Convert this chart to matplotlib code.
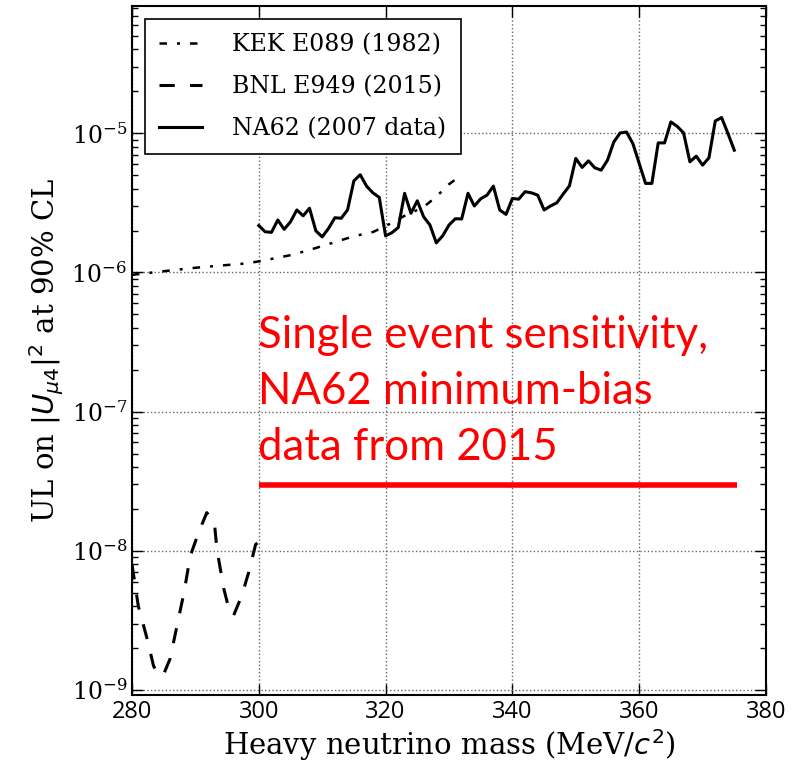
import matplotlib
matplotlib.use('agg')
import matplotlib.pyplot as plt
from matplotlib.ticker import NullFormatter
import numpy as np

# NA62 (2007 data), 1 MeV steps from 300 to 375
na62_mass = np.arange(300, 376)
na62_ul = [2.17e-6, 1.96e-6, 1.94e-6, 2.38e-6, 2.04e-6, 2.31e-6, 2.81e-6, 2.55e-6, 2.89e-6, 1.99e-6,
           1.80e-6, 2.07e-6, 2.47e-6, 2.45e-6, 2.81e-6, 4.55e-6, 5.03e-6, 4.17e-6, 3.73e-6, 3.46e-6,
           1.83e-6, 1.93e-6, 2.10e-6, 3.70e-6, 2.66e-6, 3.27e-6, 2.51e-6, 2.19e-6, 1.63e-6, 1.83e-6,
           2.19e-6, 2.43e-6, 2.42e-6, 3.70e-6, 3.00e-6, 3.38e-6, 3.59e-6, 4.17e-6, 2.81e-6, 2.61e-6,
           3.40e-6, 3.36e-6, 3.80e-6, 3.73e-6, 3.59e-6, 2.81e-6, 3.00e-6, 3.16e-6, 3.65e-6, 4.19e-6,
           6.59e-6, 5.68e-6, 6.33e-6, 5.64e-6, 5.43e-6, 6.40e-6, 8.66e-6, 1.005e-5, 1.02e-5, 8.44e-6,
           6.07e-6, 4.36e-6, 4.36e-6, 8.52e-6, 8.52e-6, 1.205e-5, 1.12e-5, 1.005e-5, 6.23e-6, 6.84e-6,
           5.90e-6, 6.65e-6, 1.225e-5, 1.296e-5, 9.95e-6, 7.55e-6]

# KEK E089 (1982)
kek_mass = [280, 285, 290, 295, 298, 300, 305, 308, 312, 315, 318, 320, 323, 326, 328, 330, 331.7]
kek_ul = [9.6e-7, 1.02e-6, 1.08e-6, 1.13e-6, 1.16e-6, 1.2e-6, 1.33e-6, 1.45e-6, 1.65e-6, 1.82e-6,
          1.95e-6, 2.15e-6, 2.55e-6, 2.95e-6, 3.5e-6, 4.3e-6, 4.9e-6]

# BNL E949 (2015)
bnl_mass = [280, 281, 282.4, 283.4, 284.2, 285, 286, 287.1, 288.2, 289.2, 290.5, 291.8, 293, 293.4,
            294.5, 295.3, 296, 297.3, 298.4, 299.5, 299.9]
bnl_ul = [8.0e-9, 4.0e-9, 2.32e-9, 1.49e-9, 1.27e-9, 1.3e-9, 1.67e-9, 2.89e-9, 5.0e-9, 9.2e-9,
          1.35e-8, 1.88e-8, 1.59e-8, 1.02e-8, 5.3e-9, 3.81e-9, 3.41e-9, 4.74e-9, 6.98e-9, 1.11e-8, 1.15e-8]

# single event sensitivity, NA62 minimum-bias 2015
ses_mass = [300, 375.5]
ses_value = [2.95e-8, 2.95e-8]

plt.rcParams['font.family'] = 'DejaVu Serif'
plt.rcParams['xtick.direction'] = 'in'
plt.rcParams['ytick.direction'] = 'in'

fig = plt.figure(figsize=(7.96, 7.72), dpi=100)
ax = fig.add_axes([0.1658, 0.0997, 0.7965, 0.8925])

ax.plot(kek_mass, kek_ul, color='black', lw=1.8, dashes=[3, 4, 1.2, 4], label='KEK E089 (1982)')
ax.plot(bnl_mass, bnl_ul, color='black', lw=2.2, dashes=[5, 5], label='BNL E949 (2015)')
ax.plot(na62_mass, na62_ul, color='black', lw=2.2, label='NA62 (2007 data)')
ax.plot(ses_mass, ses_value, color='#ff0000', lw=4, solid_capstyle='butt')

ax.set_yscale('log')
ax.set_xlim(280, 380)
ax.set_ylim(9.2e-10, 8.2e-5)
ax.set_xticks([280, 300, 320, 340, 360, 380])
ax.yaxis.set_minor_formatter(NullFormatter())
ax.grid(True, which='major', color='#666666', linestyle=':', lw=1)

ax.tick_params(which='both', top=True, right=True, labelsize=17)
ax.tick_params(which='major', length=8, width=1)
ax.tick_params(which='minor', length=4, width=1)
for lab in ax.get_xticklabels():
    lab.set_fontfamily('Open Sans')
for sp in ax.spines.values():
    sp.set_linewidth(1.5)

ax.set_xlabel('Heavy neutrino mass (MeV/$c^2$)', fontsize=21, labelpad=2)
ax.set_ylabel('UL on $|U_{\\mu 4}|^2$ at 90% CL', fontsize=21, labelpad=4)

leg = ax.legend(loc='upper left', fontsize=17, fancybox=False, framealpha=1,
                edgecolor='black', handlelength=1.8, handletextpad=1.3,
                labelspacing=0.8, borderaxespad=0.55, borderpad=0.6)
leg.get_frame().set_linewidth(1.2)

ax.text(0.199, 0.551, 'Single event sensitivity,\nNA62 minimum-bias\ndata from 2015',
        transform=ax.transAxes, color='#ff0000', fontsize=31.5, family='Lato',
        va='top', ha='left', linespacing=1.45)

fig.savefig('out.png', dpi=100, facecolor='white')
